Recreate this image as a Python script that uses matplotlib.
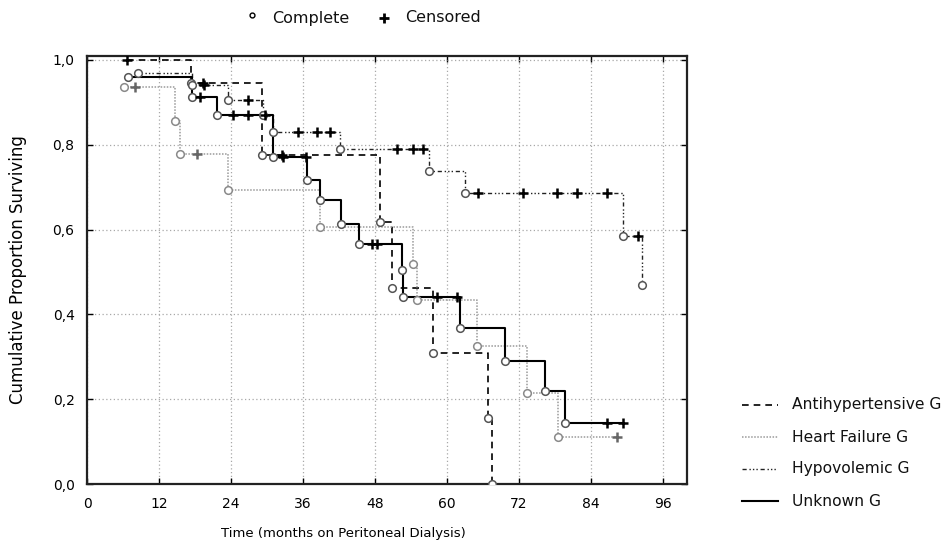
import matplotlib
matplotlib.use('Agg')
import matplotlib.pyplot as plt
from matplotlib.lines import Line2D
import numpy as np

# ---------------- data ----------------
group_names = ['Antihypertensive G', 'Heart Failure G', 'Hypovolemic G', 'Unknown G']

# time (months), survival after that time, status (1 = complete, 0 = censored)
anti_t = [6.7, 17.4, 19.3, 29.2, 32.5, 48.8, 50.8, 57.7, 66.8, 67.5]
anti_s = [1.0, 0.946, 0.946, 0.776, 0.776, 0.618, 0.463, 0.31, 0.156, 0.0]
anti_c = [0, 1, 0, 1, 0, 1, 1, 1, 1, 1]

hf_t = [6.2, 8.0, 14.7, 15.5, 18.3, 23.5, 38.8, 54.3, 55.0, 65.0, 73.3, 78.5, 88.3]
hf_s = [0.936, 0.936, 0.856, 0.778, 0.778, 0.693, 0.606, 0.52, 0.434, 0.325, 0.215, 0.11, 0.11]
hf_c = [1, 0, 1, 1, 0, 1, 1, 1, 1, 1, 1, 1, 0]

hy_t = [8.5, 17.5, 19.5, 23.5, 26.8, 29.3, 31.0, 35.2, 38.3, 40.5, 42.2, 51.6, 54.4, 56.0,
        57.0, 63.0, 65.2, 72.7, 78.3, 81.7, 86.7, 89.3, 91.8, 92.5]
hy_s = [0.97, 0.94, 0.94, 0.906, 0.906, 0.87, 0.83, 0.83, 0.83, 0.83, 0.79, 0.79, 0.79, 0.79,
        0.738, 0.686, 0.686, 0.686, 0.686, 0.686, 0.686, 0.585, 0.585, 0.47]
hy_c = [1, 1, 0, 1, 0, 1, 1, 0, 0, 0, 1, 0, 0, 0, 1, 1, 0, 0, 0, 0, 0, 1, 0, 1]

un_t = [6.8, 17.5, 18.8, 21.7, 24.4, 26.8, 29.6, 31.0, 32.7, 36.5, 36.7, 38.8, 42.3, 45.3,
        47.5, 48.3, 52.5, 52.7, 58.3, 61.7, 62.2, 69.7, 76.3, 79.7, 86.7, 89.3]
un_s = [0.96, 0.913, 0.913, 0.87, 0.87, 0.87, 0.87, 0.771, 0.771, 0.771, 0.717, 0.67, 0.613,
        0.566, 0.566, 0.566, 0.505, 0.44, 0.44, 0.44, 0.368, 0.29, 0.22, 0.145, 0.145, 0.145]
un_c = [1, 1, 0, 1, 0, 0, 0, 1, 0, 0, 1, 1, 1, 1, 0, 0, 1, 1, 0, 0, 1, 1, 1, 1, 0, 0]

x_ticks = [0, 12, 24, 36, 48, 60, 72, 84, 96]
y_ticks = [0.0, 0.2, 0.4, 0.6, 0.8, 1.0]
y_tick_labels = ['0,0', '0,2', '0,4', '0,6', '0,8', '1,0']

# ---------------- styles ----------------
styles = [
    dict(color='black', ls=(0, (4, 3)), lw=1.2, mec='#555555', cc='black'),
    dict(color='#9a9a9a', ls=(0, (1, 1)), lw=1.1, mec='#8a8a8a', cc='#666666'),
    dict(color='#222222', ls=(0, (3, 2, 1, 1.5, 1, 1.5, 1, 2)), lw=1.0, mec='#555555', cc='black'),
    dict(color='black', ls='-', lw=1.5, mec='#555555', cc='black'),
]
data = [(anti_t, anti_s, anti_c), (hf_t, hf_s, hf_c), (hy_t, hy_s, hy_c), (un_t, un_s, un_c)]

plt.rcParams['font.family'] = ['DejaVu Sans']

W, H = 950, 552
fig = plt.figure(figsize=(W / 100, H / 100), dpi=100)
ax = fig.add_axes([87 / W, 68 / H, 600 / W, 428 / H])

for (t, s, c), st in zip(data, styles):
    t = np.array(t); s = np.array(s); c = np.array(c)
    ax.plot(t, s, drawstyle='steps-post', color=st['color'], linestyle=st['ls'],
            lw=st['lw'], zorder=3)
    ax.plot(t[c == 1], s[c == 1], 'o', ms=5.5, mfc='white', mec=st['mec'], mew=1.1,
            ls='none', zorder=4)
    ax.plot(t[c == 0], s[c == 0], '+', ms=7, mew=1.8, color=st['cc'], ls='none', zorder=4)

ax.set_xlim(0, 100)
ax.set_ylim(0, 1.0094)
ax.set_xticks(x_ticks)
ax.set_xticklabels([str(v) for v in x_ticks])
ax.set_yticks(y_ticks)
ax.set_yticklabels(y_tick_labels)
ax.tick_params(direction='in', length=4, width=1, top=True, right=True,
               labelsize=10, pad=9)
ax.grid(True, color='#a8a8a8', linestyle=(0, (1, 2)), lw=0.9)
ax.set_axisbelow(True)
for sp in ax.spines.values():
    sp.set_linewidth(1.6)
    sp.set_color('#222222')

# axis titles
fig.text(18 / W, 1 - 270 / H, 'Cumulative Proportion Surviving', rotation=90,
         ha='center', va='center', fontsize=12)
fig.text(343 / W, 1 - 534 / H, 'Time (months on Peritoneal Dialysis)',
         ha='center', va='center', fontsize=9.5)

# group legend at right (drawn manually)
row_y = [405, 437, 469, 501]
for st, name, yy in zip(styles, group_names, row_y):
    fig.add_artist(Line2D([742 / W, 778 / W], [1 - yy / H, 1 - yy / H], transform=fig.transFigure,
                          color=st['color'], linestyle=st['ls'], lw=st['lw']))
    fig.text(792 / W, 1 - yy / H, name, ha='left', va='center', fontsize=11.2, color='#111111')

# status legend at top
ty = 1 - 18 / H
fig.add_artist(Line2D([252 / W], [ty + 3 / H], transform=fig.transFigure, marker='o', ms=3.5,
                      mfc='white', mec='black', mew=1, ls='none'))
fig.text(272 / W, ty, 'Complete', ha='left', va='center', fontsize=11.5, color='#111111')
fig.add_artist(Line2D([384 / W], [ty], transform=fig.transFigure, marker='+', ms=7, mew=2,
                      color='black', ls='none'))
fig.text(405 / W, ty, 'Censored', ha='left', va='center', fontsize=11.5, color='#111111')

fig.savefig('out.png', dpi=100)
